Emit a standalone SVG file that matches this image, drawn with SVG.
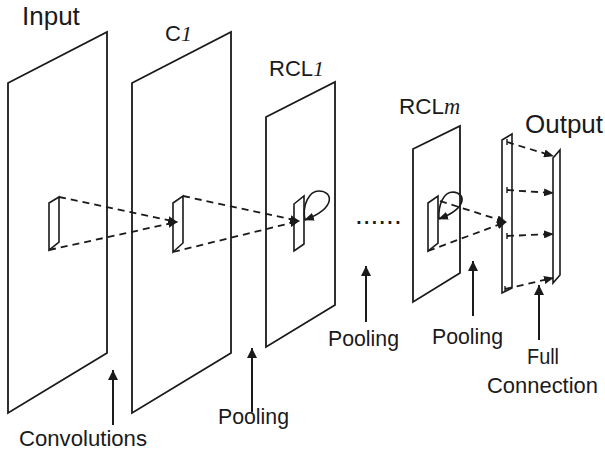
<svg xmlns="http://www.w3.org/2000/svg" width="605" height="454" viewBox="0 0 605 454">
<style>
.plane{fill:none;stroke:#1a1a1a;stroke-width:1.8}
.patch{fill:none;stroke:#1a1a1a;stroke-width:1.6}
.dash{fill:none;stroke:#1a1a1a;stroke-width:1.8;stroke-dasharray:7 5}
.loop{fill:none;stroke:#1a1a1a;stroke-width:1.6}
.up{stroke:#1a1a1a;stroke-width:2}
.tick{stroke:#1a1a1a;stroke-width:1.4}
.lbl{font-family:"Liberation Sans",Arial,sans-serif;fill:#1a1a1a}
.it{font-family:"Liberation Serif","Times New Roman",serif;font-style:italic;fill:#1a1a1a}
</style>
<defs>
<marker id="ah" viewBox="0 0 10 8" refX="9" refY="4" markerWidth="10" markerHeight="8" markerUnits="userSpaceOnUse" orient="auto"><path d="M0,0 L10,4 L0,8 z" fill="#1a1a1a"/></marker>
<marker id="uh" viewBox="0 0 10 10" refX="10" refY="5" markerWidth="11" markerHeight="10" markerUnits="userSpaceOnUse" orient="auto"><path d="M0,0 L10,5 L0,10 z" fill="#1a1a1a"/></marker>
</defs>
<g id="input">
<polygon class="plane" points="8,83 107,32 107,353 8,413"/>
<polygon class="patch" points="49,203 59,197 59,242 49,250"/>
<text class="lbl" x="22" y="25" font-size="26">Input</text>
</g>
<g id="c1">
<polygon class="plane" points="132,83 231,32 231,353 132,413"/>
<polygon class="patch" points="173,203 183,196 183,243 173,252"/>
<text class="lbl" x="165" y="41" font-size="22">C<tspan class="it">1</tspan></text>
</g>
<g id="rcl1">
<polygon class="plane" points="266,117 335,82 335,305 266,347"/>
<polygon class="patch" points="294,204 304,196 304,244 294,251"/>
<text class="lbl" x="269" y="76" font-size="22">RCL<tspan class="it">1</tspan></text>
</g>
<g id="dots">
<text class="lbl" x="355" y="224" font-size="28">......</text>
</g>
<g id="rclm">
<polygon class="plane" points="413,149 460,126 460,273 413,302"/>
<polygon class="patch" points="428,203 438,196 438,243 428,251"/>
<text class="lbl" x="399" y="114" font-size="22.5">RCL<tspan class="it">m</tspan></text>
</g>
<g id="preoutput">
<polygon class="patch" points="502,140 512,134 512,288 502,293"/>
</g>
<g id="output">
<polygon class="patch" points="553,158 560,150 560,275 553,283"/>
<text class="lbl" x="525" y="133" font-size="26">Output</text>
</g>
<g id="connectors">
<line class="dash" x1="59" y1="197" x2="177" y2="222" marker-end="url(#ah)"/>
<line class="dash" x1="49" y1="250" x2="177" y2="222" marker-end="url(#ah)"/>
<line class="dash" x1="183" y1="196" x2="299" y2="221" marker-end="url(#ah)"/>
<line class="dash" x1="173" y1="252" x2="299" y2="221" marker-end="url(#ah)"/>
<path class="loop" d="M305,220 C302,205 309,191 319,191 C332,191 338,207 305,220" marker-end="url(#ah)"/>
<path class="loop" d="M439,219 C438,204 444,192 453,192 C466,193 468,208 439,219" marker-end="url(#ah)"/>
<line class="dash" x1="440" y1="201" x2="506" y2="222" marker-end="url(#ah)"/>
<line class="dash" x1="428" y1="251" x2="506" y2="222" marker-end="url(#ah)"/>
<line class="dash" x1="507" y1="142" x2="553" y2="156" marker-end="url(#ah)"/>
<line class="dash" x1="507" y1="190" x2="553" y2="193" marker-end="url(#ah)"/>
<line class="dash" x1="507" y1="236" x2="553" y2="234" marker-end="url(#ah)"/>
<line class="dash" x1="505" y1="289" x2="553" y2="278" marker-end="url(#ah)"/>
<line class="tick" x1="507" y1="139" x2="507" y2="145"/>
<line class="tick" x1="507" y1="187" x2="507" y2="193"/>
<line class="tick" x1="507" y1="233" x2="507" y2="239"/>
<line class="tick" x1="505" y1="286" x2="505" y2="292"/>
</g>
<g id="annotations">
<line class="up" x1="113" y1="425" x2="113" y2="370" marker-end="url(#uh)"/>
<line class="up" x1="252" y1="412" x2="252" y2="348" marker-end="url(#uh)"/>
<line class="up" x1="366" y1="322" x2="366" y2="266" marker-end="url(#uh)"/>
<line class="up" x1="473" y1="316" x2="473" y2="261" marker-end="url(#uh)"/>
<line class="up" x1="539" y1="340" x2="539" y2="285" marker-end="url(#uh)"/>
<text class="lbl" x="19" y="446" font-size="22.5" textLength="128" lengthAdjust="spacingAndGlyphs">Convolutions</text>
<text class="lbl" x="218" y="424" font-size="22.5" textLength="71" lengthAdjust="spacingAndGlyphs">Pooling</text>
<text class="lbl" x="328" y="346" font-size="22.5" textLength="71" lengthAdjust="spacingAndGlyphs">Pooling</text>
<text class="lbl" x="432" y="344" font-size="22.5" textLength="71" lengthAdjust="spacingAndGlyphs">Pooling</text>
<text class="lbl" x="527" y="364" font-size="22.5" textLength="32" lengthAdjust="spacingAndGlyphs">Full</text>
<text class="lbl" x="487" y="393" font-size="22.5" textLength="111" lengthAdjust="spacingAndGlyphs">Connection</text>
</g>
</svg>
